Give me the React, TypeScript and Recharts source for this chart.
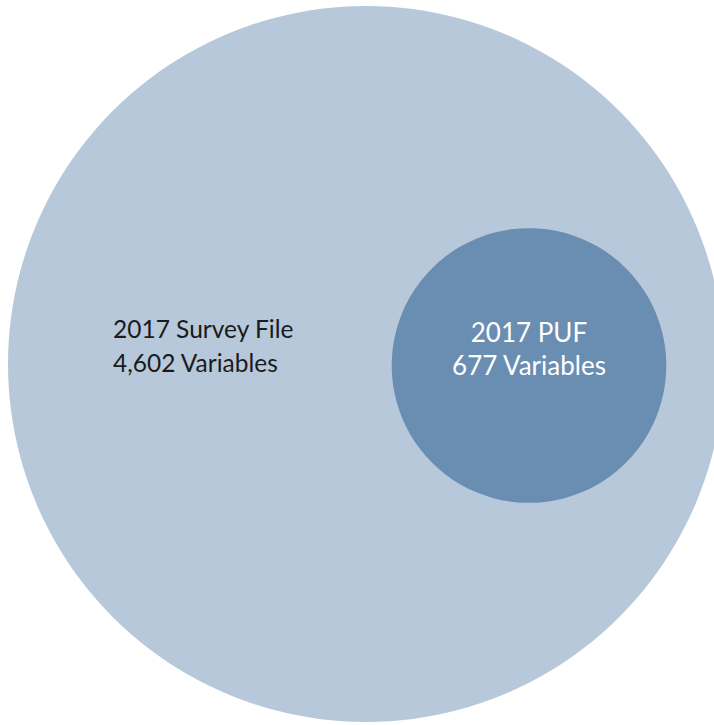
import React from 'react';
import { PieChart, Pie, Cell } from 'recharts';

// two nested sets, circle area proportional to variable count
const setNames = ['2017 Survey File', '2017 PUF'];
const setCounts = [4602, 677];
const setColors = ['#b6c8da', '#6a8db2'];

const WIDTH = 714;
const HEIGHT = 725;
const MAX_RADIUS = 358;
const FONT = 'Lato, "Open Sans", sans-serif';

const radiusFor = (count: number) => MAX_RADIUS * Math.sqrt(count / setCounts[0]);

const fmt = (n: number) => n.toLocaleString('en-US');

const OuterLabel = (props: any) => {
  const { cx, cy } = props;
  const x = cx - 253;
  return (
    <text x={x} y={cy} fill="#1b1b1b" fontFamily={FONT} fontSize={24.5}>
      <tspan x={x} y={cy - 26}>{setNames[0]}</tspan>
      <tspan x={x} y={cy + 8}>{`${fmt(setCounts[0])} Variables`}</tspan>
    </text>
  );
};

const InnerLabel = (props: any) => {
  const { cx, cy } = props;
  return (
    <text x={cx} y={cy} fill="#ffffff" fontFamily={FONT} fontSize={26} textAnchor="middle">
      <tspan x={cx} y={cy - 24}>{setNames[1]}</tspan>
      <tspan x={cx} y={cy + 9}>{`${fmt(setCounts[1])} Variables`}</tspan>
    </text>
  );
};

export default function App() {
  const outerData = [{ name: setNames[0], value: setCounts[0] }];
  const innerData = [{ name: setNames[1], value: setCounts[1] }];

  return (
    <div style={{ position: 'fixed', top: 0, left: 0, width: WIDTH, height: HEIGHT, background: '#fff' }}>
      <PieChart width={WIDTH} height={HEIGHT} margin={{ top: 0, right: 0, bottom: 0, left: 0 }}>
        <Pie
          data={outerData}
          dataKey="value"
          cx={366}
          cy={364}
          startAngle={90}
          endAngle={450}
          outerRadius={radiusFor(setCounts[0])}
          stroke="none"
          labelLine={false}
          label={OuterLabel}
          isAnimationActive={false}
        >
          <Cell fill={setColors[0]} />
        </Pie>
        <Pie
          data={innerData}
          dataKey="value"
          cx={529}
          cy={365.5}
          startAngle={90}
          endAngle={450}
          outerRadius={radiusFor(setCounts[1])}
          stroke="none"
          labelLine={false}
          label={InnerLabel}
          isAnimationActive={false}
        >
          <Cell fill={setColors[1]} />
        </Pie>
      </PieChart>
    </div>
  );
}
